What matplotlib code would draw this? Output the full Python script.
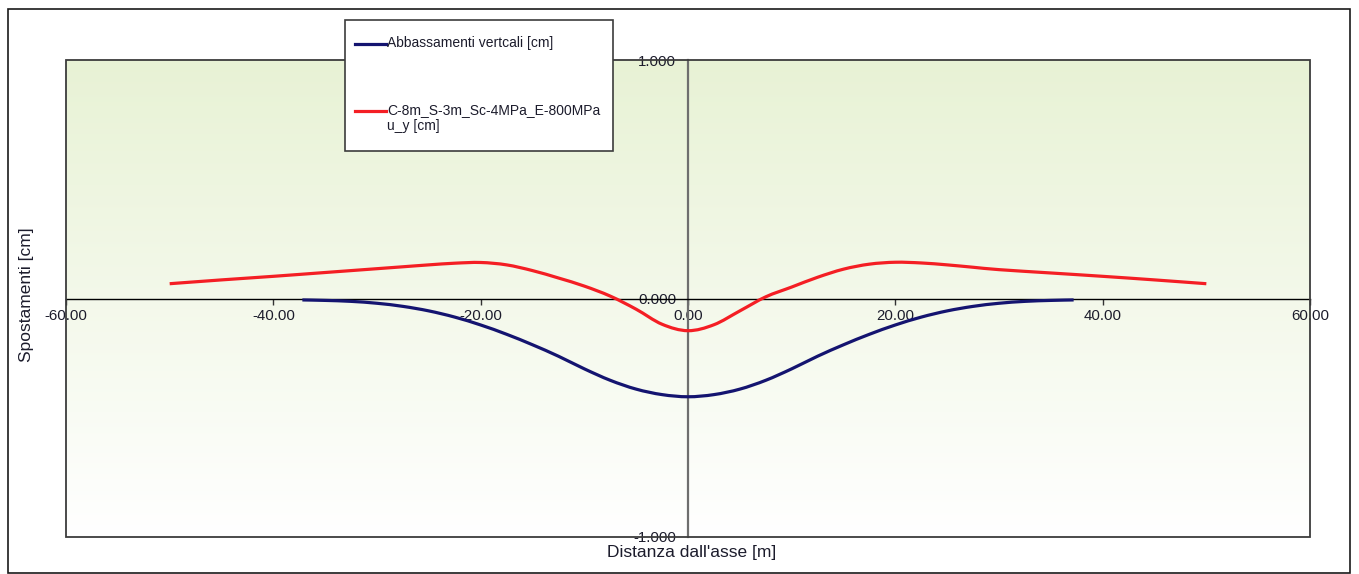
import numpy as np
import matplotlib
matplotlib.use('Agg')
import matplotlib.pyplot as plt
from matplotlib.patches import Rectangle, PathPatch
from matplotlib.lines import Line2D
from matplotlib.path import Path

plt.rcParams['font.family'] = ['Liberation Sans', 'DejaVu Sans']

# Data
x_abb = [-37.2, -35.0, -32.5, -30.0, -27.5, -25.0, -22.5, -20.0, -17.5, -15.0, -12.5, -10.0, -7.5,
         -5.0, -2.5, 0.0, 2.5, 5.0, 7.5, 10.0, 12.5, 15.0, 17.5, 20.0, 22.5, 25.0, 27.5, 30.0,
         32.5, 35.0, 37.2]
y_abb = [-0.006, -0.008, -0.012, -0.020, -0.033, -0.052, -0.078, -0.111, -0.150, -0.194, -0.242,
         -0.295, -0.343, -0.380, -0.403, -0.412, -0.403, -0.380, -0.343, -0.295, -0.242, -0.194,
         -0.150, -0.111, -0.078, -0.052, -0.033, -0.020, -0.012, -0.008, -0.006]

x_uy = [-50.0, -45.0, -40.0, -35.0, -30.0, -27.5, -25.0, -22.5, -20.0, -17.5, -15.0, -12.5, -10.0,
        -7.5, -5.0, -2.5, 0.0, 2.5, 5.0, 7.5, 10.0, 12.5, 15.0, 17.5, 20.0, 22.5, 25.0, 27.5,
        30.0, 35.0, 40.0, 45.0, 50.0]
y_uy = [0.062, 0.078, 0.093, 0.109, 0.125, 0.133, 0.141, 0.148, 0.151, 0.141, 0.117, 0.086, 0.052,
        0.010, -0.045, -0.108, -0.135, -0.110, -0.052, 0.007, 0.048, 0.089, 0.123, 0.144, 0.152,
        0.149, 0.141, 0.131, 0.121, 0.107, 0.093, 0.078, 0.062]

x_ticks = [-60, -40, -20, 0, 20, 40, 60]
y_ticks = [-1, 0, 1]

label_abb = "Abbassamenti vertcali [cm]"
label_uy = "C-8m_S-3m_Sc-4MPa_E-800MPa\nu_y [cm]"

BLUE = '#141470'
RED = '#f41e24'


def smooth_path(xs, ys):
    # smoothed line through the points (cubic Bezier segments, Catmull-Rom tangents)
    p = np.column_stack([xs, ys]).astype(float)
    verts = [p[0]]
    codes = [Path.MOVETO]
    n = len(p)
    for i in range(n - 1):
        p0 = p[i - 1] if i > 0 else p[i]
        p3 = p[i + 2] if i + 2 < n else p[i + 1]
        c1 = p[i] + (p[i + 1] - p0) / 6
        c2 = p[i + 1] - (p3 - p[i]) / 6
        verts += [c1, c2, p[i + 1]]
        codes += [Path.CURVE4] * 3
    return Path(verts, codes)


W, H = 1359, 574
fig = plt.figure(figsize=(W / 100, H / 100), dpi=100)
ax = fig.add_axes([66 / W, 1 - 537 / H, (1310 - 66) / W, (537 - 60) / H])

# green-to-white gradient behind the plot
top = np.array([232, 242, 213]) / 255
bot = np.array([255, 255, 255]) / 255
t = np.linspace(0, 1, 256)[:, None]
grad = (top * (1 - t) + bot * t)[:, None, :]
ax.imshow(grad, extent=[0, 1, 0, 1], transform=ax.transAxes, aspect='auto', zorder=0)

for xs, ys, c in [(x_abb, y_abb, BLUE), (x_uy, y_uy, RED)]:
    ax.add_patch(PathPatch(smooth_path(xs, ys), facecolor='none', edgecolor=c, lw=2.3,
                           capstyle='butt', zorder=3))

ax.set_xlim(-60, 60)
ax.set_ylim(-1, 1)

# axes crossing at the origin
ax.spines['bottom'].set_position(('data', 0))
ax.spines['left'].set_position(('data', 0))
ax.spines['bottom'].set_color('black')
ax.spines['bottom'].set_linewidth(1.0)
ax.spines['left'].set_color('#6e6e6e')
ax.spines['left'].set_linewidth(1.6)
ax.spines['top'].set_visible(False)
ax.spines['right'].set_visible(False)
ax.add_patch(Rectangle((0, 0), 1, 1, transform=ax.transAxes, fill=False,
                       edgecolor='#3c3c3c', lw=1.3, zorder=4, clip_on=False))

ax.set_xticks(x_ticks)
ax.set_xticklabels([f"{v:.2f}" for v in x_ticks])
ax.set_yticks(y_ticks)
ax.set_yticklabels([f"{v:.3f}" for v in y_ticks])
ax.tick_params(axis='x', direction='out', length=4, width=1, color='#333333',
               pad=3.5, labelsize=10.8, labelcolor='#1c1c2c')
ax.tick_params(axis='y', length=0, pad=8.5, labelsize=10.8, labelcolor='#1c1c2c')

fig.text(692 / W, 1 - 553 / H, "Distanza dall'asse [m]", ha='center', va='center',
         fontsize=12.5, color='#1c1c2c')
fig.text(27 / W, 1 - 295 / H, "Spostamenti [cm]", ha='center', va='center',
         rotation=90, fontsize=12.5, color='#1c1c2c')


def px(x, y):
    return x / W, 1 - y / H


# legend box
fig.add_artist(Rectangle(px(345, 151), (613 - 345) / W, (151 - 20) / H, facecolor='white',
                         edgecolor='#3c3c3c', lw=1.2, transform=fig.transFigure, zorder=5))
for y, c, lbl in [(44, BLUE, label_abb), (111, RED, label_uy)]:
    x0, y0 = px(355, y)
    x1, _ = px(386, y)
    fig.add_artist(Line2D([x0, x1], [y0, y0], color=c, lw=2.3, transform=fig.transFigure,
                          zorder=6))
    fig.text(*px(387, y - 8), lbl, ha='left', va='top', fontsize=10, color='#1c1c2c',
             zorder=7, linespacing=1.2)

# outer frame
fig.add_artist(Rectangle(px(8, 573), (1350 - 8) / W, (573 - 9) / H, fill=False,
                         edgecolor='#1a1a1a', lw=1.2, transform=fig.transFigure))

fig.savefig('out.png', dpi=100)
